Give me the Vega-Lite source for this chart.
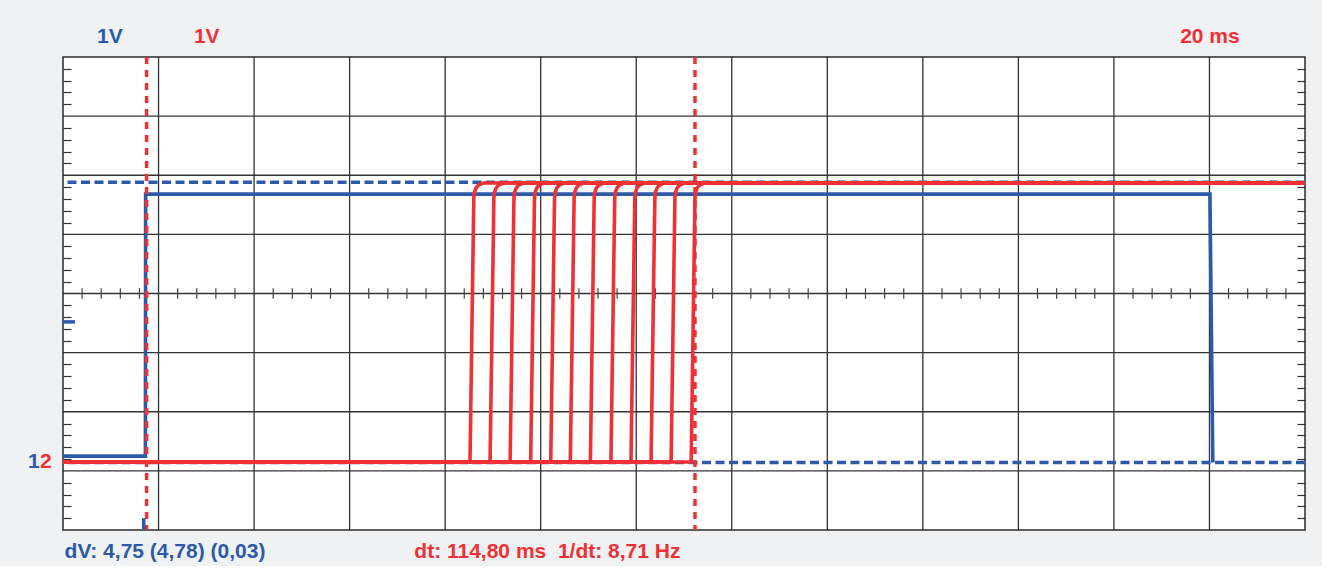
{
  "$schema": "https://vega.github.io/schema/vega-lite/v6.json",
  "width": 1242,
  "height": 473,
  "autosize": {"type": "none"},
  "padding": {"left": 63, "top": 57, "right": 17, "bottom": 36},
  "background": "#f0f1f3",
  "config": {
    "view": {"fill": "white", "stroke": "#2a2a2a", "strokeWidth": 1.5},
    "axis": {"labels": false, "title": null, "domain": false, "grid": false}
  },
  "datasets": {
    "vgrid": [{"t": 20}, {"t": 40}, {"t": 60}, {"t": 80}, {"t": 100}, {"t": 120}, {"t": 140}, {"t": 160}, {"t": 180}, {"t": 200}, {"t": 220}, {"t": 240}],
    "hgrid": [{"v": -3}, {"v": -2}, {"v": -1}, {"v": 0}, {"v": 1}, {"v": 2}, {"v": 3}],
    "minor": [{"t": 4}, {"t": 8}, {"t": 12}, {"t": 16}, {"t": 24}, {"t": 28}, {"t": 32}, {"t": 36}, {"t": 44}, {"t": 48}, {"t": 52}, {"t": 56}, {"t": 64}, {"t": 68}, {"t": 72}, {"t": 76}, {"t": 84}, {"t": 88}, {"t": 92}, {"t": 96}, {"t": 104}, {"t": 108}, {"t": 112}, {"t": 116}, {"t": 124}, {"t": 128}, {"t": 132}, {"t": 136}, {"t": 144}, {"t": 148}, {"t": 152}, {"t": 156}, {"t": 164}, {"t": 168}, {"t": 172}, {"t": 176}, {"t": 184}, {"t": 188}, {"t": 192}, {"t": 196}, {"t": 204}, {"t": 208}, {"t": 212}, {"t": 216}, {"t": 224}, {"t": 228}, {"t": 232}, {"t": 236}, {"t": 244}, {"t": 248}, {"t": 252}, {"t": 256}],
    "vcursor": [{"v": 1.88}, {"v": -2.86}],
    "tcursor": [{"t": 17.5}, {"t": 132.3}],
    "blue": [
      {"i": 0, "t": 0, "v": -2.75},
      {"i": 1, "t": 17.25, "v": -2.75},
      {"i": 2, "t": 17.3, "v": 1.68},
      {"i": 3, "t": 240.1, "v": 1.68},
      {"i": 4, "t": 240.7, "v": -2.86}
    ],
    "red": [
      {"k": 0, "i": 0, "t": 0, "v": -2.85}, {"k": 0, "i": 1, "t": 85.2, "v": -2.85}, {"k": 0, "i": 2, "t": 86.0, "v": 1.62}, {"k": 0, "i": 3, "t": 86.15, "v": 1.72}, {"k": 0, "i": 4, "t": 86.5, "v": 1.79}, {"k": 0, "i": 5, "t": 87.05, "v": 1.84}, {"k": 0, "i": 6, "t": 88.1, "v": 1.87}, {"k": 0, "i": 7, "t": 260, "v": 1.87},
      {"k": 1, "i": 0, "t": 0, "v": -2.85}, {"k": 1, "i": 1, "t": 89.4, "v": -2.85}, {"k": 1, "i": 2, "t": 90.2, "v": 1.62}, {"k": 1, "i": 3, "t": 90.35, "v": 1.72}, {"k": 1, "i": 4, "t": 90.7, "v": 1.79}, {"k": 1, "i": 5, "t": 91.25, "v": 1.84}, {"k": 1, "i": 6, "t": 92.3, "v": 1.87}, {"k": 1, "i": 7, "t": 260, "v": 1.87},
      {"k": 2, "i": 0, "t": 0, "v": -2.85}, {"k": 2, "i": 1, "t": 93.6, "v": -2.85}, {"k": 2, "i": 2, "t": 94.4, "v": 1.62}, {"k": 2, "i": 3, "t": 94.55, "v": 1.72}, {"k": 2, "i": 4, "t": 94.9, "v": 1.79}, {"k": 2, "i": 5, "t": 95.45, "v": 1.84}, {"k": 2, "i": 6, "t": 96.5, "v": 1.87}, {"k": 2, "i": 7, "t": 260, "v": 1.87},
      {"k": 3, "i": 0, "t": 0, "v": -2.85}, {"k": 3, "i": 1, "t": 97.9, "v": -2.85}, {"k": 3, "i": 2, "t": 98.7, "v": 1.62}, {"k": 3, "i": 3, "t": 98.85, "v": 1.72}, {"k": 3, "i": 4, "t": 99.2, "v": 1.79}, {"k": 3, "i": 5, "t": 99.75, "v": 1.84}, {"k": 3, "i": 6, "t": 100.8, "v": 1.87}, {"k": 3, "i": 7, "t": 260, "v": 1.87},
      {"k": 4, "i": 0, "t": 0, "v": -2.85}, {"k": 4, "i": 1, "t": 102.1, "v": -2.85}, {"k": 4, "i": 2, "t": 102.9, "v": 1.62}, {"k": 4, "i": 3, "t": 103.05, "v": 1.72}, {"k": 4, "i": 4, "t": 103.4, "v": 1.79}, {"k": 4, "i": 5, "t": 103.95, "v": 1.84}, {"k": 4, "i": 6, "t": 105.0, "v": 1.87}, {"k": 4, "i": 7, "t": 260, "v": 1.87},
      {"k": 5, "i": 0, "t": 0, "v": -2.85}, {"k": 5, "i": 1, "t": 106.2, "v": -2.85}, {"k": 5, "i": 2, "t": 107.0, "v": 1.62}, {"k": 5, "i": 3, "t": 107.15, "v": 1.72}, {"k": 5, "i": 4, "t": 107.5, "v": 1.79}, {"k": 5, "i": 5, "t": 108.05, "v": 1.84}, {"k": 5, "i": 6, "t": 109.1, "v": 1.87}, {"k": 5, "i": 7, "t": 260, "v": 1.87},
      {"k": 6, "i": 0, "t": 0, "v": -2.85}, {"k": 6, "i": 1, "t": 110.4, "v": -2.85}, {"k": 6, "i": 2, "t": 111.2, "v": 1.62}, {"k": 6, "i": 3, "t": 111.35, "v": 1.72}, {"k": 6, "i": 4, "t": 111.7, "v": 1.79}, {"k": 6, "i": 5, "t": 112.25, "v": 1.84}, {"k": 6, "i": 6, "t": 113.3, "v": 1.87}, {"k": 6, "i": 7, "t": 260, "v": 1.87},
      {"k": 7, "i": 0, "t": 0, "v": -2.85}, {"k": 7, "i": 1, "t": 114.7, "v": -2.85}, {"k": 7, "i": 2, "t": 115.5, "v": 1.62}, {"k": 7, "i": 3, "t": 115.65, "v": 1.72}, {"k": 7, "i": 4, "t": 116.0, "v": 1.79}, {"k": 7, "i": 5, "t": 116.55, "v": 1.84}, {"k": 7, "i": 6, "t": 117.6, "v": 1.87}, {"k": 7, "i": 7, "t": 260, "v": 1.87},
      {"k": 8, "i": 0, "t": 0, "v": -2.85}, {"k": 8, "i": 1, "t": 118.9, "v": -2.85}, {"k": 8, "i": 2, "t": 119.7, "v": 1.62}, {"k": 8, "i": 3, "t": 119.85, "v": 1.72}, {"k": 8, "i": 4, "t": 120.2, "v": 1.79}, {"k": 8, "i": 5, "t": 120.75, "v": 1.84}, {"k": 8, "i": 6, "t": 121.8, "v": 1.87}, {"k": 8, "i": 7, "t": 260, "v": 1.87},
      {"k": 9, "i": 0, "t": 0, "v": -2.85}, {"k": 9, "i": 1, "t": 123.1, "v": -2.85}, {"k": 9, "i": 2, "t": 123.9, "v": 1.62}, {"k": 9, "i": 3, "t": 124.05, "v": 1.72}, {"k": 9, "i": 4, "t": 124.4, "v": 1.79}, {"k": 9, "i": 5, "t": 124.95, "v": 1.84}, {"k": 9, "i": 6, "t": 126.0, "v": 1.87}, {"k": 9, "i": 7, "t": 260, "v": 1.87},
      {"k": 10, "i": 0, "t": 0, "v": -2.85}, {"k": 10, "i": 1, "t": 127.3, "v": -2.85}, {"k": 10, "i": 2, "t": 128.1, "v": 1.62}, {"k": 10, "i": 3, "t": 128.25, "v": 1.72}, {"k": 10, "i": 4, "t": 128.6, "v": 1.79}, {"k": 10, "i": 5, "t": 129.15, "v": 1.84}, {"k": 10, "i": 6, "t": 130.2, "v": 1.87}, {"k": 10, "i": 7, "t": 260, "v": 1.87},
      {"k": 11, "i": 0, "t": 0, "v": -2.85}, {"k": 11, "i": 1, "t": 131.5, "v": -2.85}, {"k": 11, "i": 2, "t": 132.3, "v": 1.62}, {"k": 11, "i": 3, "t": 132.45, "v": 1.72}, {"k": 11, "i": 4, "t": 132.8, "v": 1.79}, {"k": 11, "i": 5, "t": 133.35, "v": 1.84}, {"k": 11, "i": 6, "t": 134.4, "v": 1.87}, {"k": 11, "i": 7, "t": 260, "v": 1.87}
    ],
    "markers": [
      {"t": 0, "t2": 2.5, "v": -0.48, "v2": -0.48},
      {"t": 16.9, "t2": 16.9, "v": -3.8, "v2": -4.0}
    ],
    "labels": [
      {"text": "1V", "t": 9.8, "v": 4.34, "ch": "b"},
      {"text": "1V", "t": 30.1, "v": 4.34, "ch": "r"},
      {"text": "20 ms", "t": 240.1, "v": 4.34, "ch": "r"},
      {"text": "1", "t": -6.1, "v": -2.85, "ch": "b"},
      {"text": "2", "t": -3.6, "v": -2.85, "ch": "r"},
      {"text": "dV: 4,75 (4,78) (0,03)", "t": 21.35, "v": -4.38, "ch": "b"},
      {"text": "dt: 114,80 ms\u00a0 1/dt: 8,71 Hz", "t": 101.4, "v": -4.38, "ch": "r"}
    ]
  },
  "resolve": {"axis": {"y": "independent"}},
  "layer": [
    {
      "data": {"name": "vgrid"},
      "mark": {"type": "rule", "color": "#333333", "strokeWidth": 1.3},
      "encoding": {
        "x": {"field": "t", "type": "quantitative", "scale": {"domain": [0, 260], "nice": false, "zero": false}, "axis": null}
      }
    },
    {
      "data": {"name": "hgrid"},
      "mark": {"type": "rule", "color": "#333333", "strokeWidth": 1.3},
      "encoding": {
        "y": {"field": "v", "type": "quantitative", "scale": {"domain": [-4, 4], "nice": false, "zero": false},
          "axis": {"orient": "left", "ticks": true, "tickSize": -8, "tickColor": "#333333", "tickWidth": 1.2,
            "values": [-3.8, -3.6, -3.4, -3.2, -2.8, -2.6, -2.4, -2.2, -1.8, -1.6, -1.4, -1.2, -0.8, -0.6, -0.4, -0.2, 0.2, 0.4, 0.6, 0.8, 1.2, 1.4, 1.6, 1.8, 2.2, 2.4, 2.6, 2.8, 3.2, 3.4, 3.6, 3.8]}}
      }
    },
    {
      "data": {"name": "minor"},
      "mark": {"type": "rule", "color": "#444444", "strokeWidth": 1.2},
      "encoding": {
        "x": {"field": "t", "type": "quantitative", "axis": null},
        "y": {"datum": -0.09, "axis": null},
        "y2": {"datum": 0.09}
      }
    },
    {
      "data": {"name": "vcursor"},
      "mark": {"type": "rule", "color": "#2c5aa8", "strokeWidth": 3.5, "strokeDash": [9, 4.5]},
      "encoding": {
        "y": {"field": "v", "type": "quantitative",
          "axis": {"orient": "right", "ticks": true, "tickSize": -8, "tickColor": "#333333", "tickWidth": 1.2,
            "values": [-3.8, -3.6, -3.4, -3.2, -2.8, -2.6, -2.4, -2.2, -1.8, -1.6, -1.4, -1.2, -0.8, -0.6, -0.4, -0.2, 0.2, 0.4, 0.6, 0.8, 1.2, 1.4, 1.6, 1.8, 2.2, 2.4, 2.6, 2.8, 3.2, 3.4, 3.6, 3.8]}}
      }
    },
    {
      "data": {"name": "blue"},
      "mark": {"type": "line", "color": "#2c5aa8", "strokeWidth": 3.6, "strokeJoin": "miter"},
      "encoding": {
        "x": {"field": "t", "type": "quantitative", "axis": null},
        "y": {"field": "v", "type": "quantitative", "axis": null},
        "order": {"field": "i"}
      }
    },
    {
      "data": {"name": "red"},
      "mark": {"type": "line", "color": "#ef3034", "strokeWidth": 3.6, "strokeJoin": "round"},
      "encoding": {
        "x": {"field": "t", "type": "quantitative", "axis": null},
        "y": {"field": "v", "type": "quantitative", "axis": null},
        "detail": {"field": "k"},
        "order": {"field": "i"}
      }
    },
    {
      "data": {"name": "tcursor"},
      "mark": {"type": "rule", "color": "#ef3034", "strokeWidth": 3.5, "strokeDash": [7, 6]},
      "encoding": {
        "x": {"field": "t", "type": "quantitative", "axis": null}
      }
    },
    {
      "data": {"name": "markers"},
      "mark": {"type": "rule", "color": "#2c5aa8", "strokeWidth": 3.5},
      "encoding": {
        "x": {"field": "t", "type": "quantitative", "axis": null},
        "x2": {"field": "t2"},
        "y": {"field": "v", "type": "quantitative", "axis": null},
        "y2": {"field": "v2"}
      }
    },
    {
      "data": {"name": "labels"},
      "mark": {"type": "text", "font": "Liberation Sans", "fontWeight": "bold", "fontSize": 21, "align": "center", "baseline": "middle", "clip": false},
      "encoding": {
        "x": {"field": "t", "type": "quantitative", "axis": null},
        "y": {"field": "v", "type": "quantitative", "axis": null},
        "text": {"field": "text"},
        "color": {"field": "ch", "type": "nominal", "scale": {"domain": ["b", "r"], "range": ["#2c5aa8", "#ef3034"]}, "legend": null}
      }
    }
  ]
}
